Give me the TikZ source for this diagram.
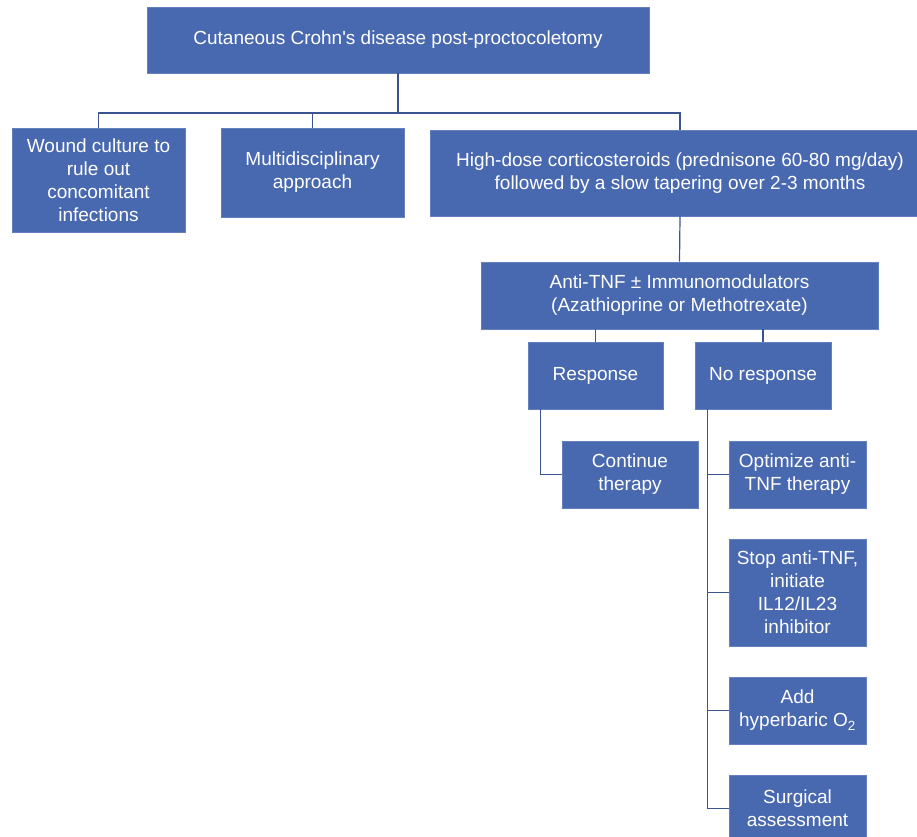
\documentclass[tikz,border=0pt]{standalone}
\usepackage{fontspec}
\newfontfamily\boxfont{Liberation Sans}
\definecolor{boxblue}{RGB}{72,104,175}
\definecolor{boxedge}{RGB}{100,128,190}
\definecolor{linec}{RGB}{58,84,145}
\begin{document}
\begin{tikzpicture}[x=1pt,y=-1pt,
 box/.style={draw=boxedge, line width=0.8pt, fill=boxblue, text=white, align=center, inner sep=0pt, font=\boxfont\fontsize{19}{23}\selectfont},
 conn/.style={draw=linec, line width=1.2pt}]
\useasboundingbox (0,0) rectangle (917,836);
\node[box, minimum width=502, minimum height=66] (top) at (398,40) {Cutaneous Crohn's disease post-proctocoletomy};
\node[box, minimum width=173, minimum height=104] (wound) at (98.5,180) {Wound culture to\\rule out\\concomitant\\infections};
\node[box, minimum width=183, minimum height=89] (multi) at (312.5,172.5) {Multidisciplinary\\approach};
\node[box, minimum width=500, minimum height=86] (high) at (680,173) {High-dose corticosteroids (prednisone 60-80 mg/day)\\followed by a slow tapering over 2-3 months};
\node[box, minimum width=397, minimum height=67] (anti) at (679.5,295.5) {Anti-TNF ± Immunomodulators\\(Azathioprine or Methotrexate)};
\node[box, minimum width=135, minimum height=67] (resp) at (595.5,375.5) {Response};
\node[box, minimum width=136, minimum height=67] (noresp) at (763,375.5) {No response};
\node[box, minimum width=136, minimum height=67] (cont) at (630,474.5) {Continue\\therapy};
\node[box, minimum width=137, minimum height=67] (opt) at (797.5,474.5) {Optimize anti-\\TNF therapy};
\node[box, minimum width=137, minimum height=107] (stop) at (797.5,592.5) {Stop anti-TNF,\\initiate\\IL12/IL23\\inhibitor};
\node[box, minimum width=137, minimum height=67] (hyper) at (797.5,710.5) {Add\\hyperbaric O\textsubscript{2}};
\node[box, minimum width=137, minimum height=67] (surg) at (797.5,808.5) {Surgical\\assessment};
\coordinate (bus) at (398,113);
\draw[conn] (top.south) -- (bus);
\draw[conn] (wound.north) |- (bus);
\draw[conn] (multi.north) |- (bus);
\draw[conn] (high.north) |- (bus);
\draw[conn] (high.south) -- (anti.north);
\draw[conn] (resp.north |- anti.south) -- (resp.north);
\draw[conn] (noresp.north |- anti.south) -- (noresp.north);
\draw[conn] ([xshift=13]resp.south west) |- (cont.west);
\draw[conn] ([xshift=13]noresp.south west) |- (opt.west);
\draw[conn] ([xshift=13]noresp.south west) |- (stop.west);
\draw[conn] ([xshift=13]noresp.south west) |- (hyper.west);
\draw[conn] ([xshift=13]noresp.south west) |- (surg.west);
\end{tikzpicture}
\end{document}
